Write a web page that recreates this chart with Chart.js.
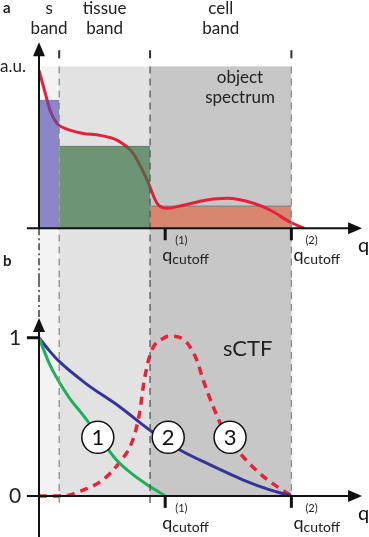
<!DOCTYPE html>
<html>
<head>
<meta charset="utf-8">
<script src="https://cdn.jsdelivr.net/npm/chart.js@4.4.1/dist/chart.umd.min.js"></script>
<style>
  body { margin: 0; background: #fff; }
  #wrap { position: relative; width: 369px; height: 537px; }
  #wrap canvas { position: absolute; left: 0; top: 0; }
</style>
</head>
<body>
<div id="wrap">
  <canvas id="chartA" width="369" height="537"></canvas>
  <canvas id="chartB" width="369" height="537"></canvas>
</div>
<script>
// --- data ---
const bandEdges = [0, 0.8, 4.4, 10];
const bandNames = [["s", "band"], ["tissue", "band"], ["cell", "band"]];
const bandShades = ["#f3f3f3", "#e2e2e2", "#c7c7c7"];
const bandTop = 10;
const bandLevels = [7.9, 5.06, 1.36];

// panel a: object spectrum
const qSpectrum = [0, 0.24, 0.44, 0.71, 1.03, 1.75, 2.42, 3.1, 3.73, 4.29, 4.68, 5.08, 5.71, 6.6, 7.46, 8.5, 9.17, 9.96, 10.5];
const spectrum  = [9.75, 8.4, 7.28, 6.48, 6.17, 5.86, 5.74, 5.43, 4.63, 2.96, 1.54, 1.23, 1.42, 1.73, 1.85, 1.54, 1.11, 0.37, 0];

// panel b: sCTF curves
const qCtf1 = [0, 0.4, 0.8, 1.2, 1.8, 2.4, 3.0, 3.6, 4.2, 5];
const ctf1  = [1, 0.84, 0.72, 0.62, 0.5, 0.37, 0.24, 0.15, 0.08, 0];
const qCtf2 = [0, 0.4, 0.8, 1.86, 3.18, 4.44, 5.59, 6.78, 8.1, 9.15, 10];
const ctf2  = [1, 0.92, 0.85, 0.71, 0.565, 0.41, 0.29, 0.196, 0.1, 0.038, 0];
const qCtf3 = [0, 0.8, 1.2, 1.6, 2.52, 3.18, 3.71, 3.98, 4.17, 4.44, 4.97, 5.19, 5.72, 6.25, 6.51, 6.9, 7.46, 7.96, 8.76, 9.42, 10];
const ctf3  = [0, 0, 0.005, 0.027, 0.1, 0.21, 0.35, 0.52, 0.73, 0.91, 1.0, 1.01, 0.99, 0.86, 0.73, 0.565, 0.37, 0.27, 0.14, 0.06, 0];

const cutoffs = [5, 10];
const circleLabels = ["1", "2", "3"];
const circleQ = [2.33, 5.12, 7.57];
const circleV = 0.37;

const FONT = 'Lato, "Open Sans", sans-serif';
const zip = (xs, ys) => xs.map((x, i) => ({ x, y: ys[i] }));

// tekstet e q_cutoff poshte boshtit
function cutoffLabels(ctx, X, axisY) {
  const qOff = [-3, 2], pOff = [10, 14];
  cutoffs.forEach((c, i) => {
    const px = X(c);
    ctx.fillStyle = "#222";
    ctx.textAlign = "left";
    ctx.font = "11px " + FONT;
    ctx.fillText("(" + (i + 1) + ")", px + pOff[i], axisY + 16);
    ctx.font = "18px " + FONT;
    ctx.fillText("q", px + qOff[i], axisY + 33);
    const qw = ctx.measureText("q").width;
    ctx.font = "14px " + FONT;
    ctx.fillText("cutoff", px + qOff[i] + qw, axisY + 36);
  });
}

function xAxis(ctx, X, axisY) {
  ctx.save();
  ctx.strokeStyle = "#111"; ctx.fillStyle = "#111";
  ctx.lineWidth = 2;
  ctx.beginPath(); ctx.moveTo(X(-0.48), axisY); ctx.lineTo(X(12.3), axisY); ctx.stroke();
  const tip = X(12.8);
  ctx.beginPath(); ctx.moveTo(tip, axisY); ctx.lineTo(tip - 14, axisY - 6); ctx.lineTo(tip - 14, axisY + 6); ctx.closePath(); ctx.fill();
  ctx.lineWidth = 3;
  cutoffs.forEach(c => {
    ctx.beginPath(); ctx.moveTo(X(c), axisY); ctx.lineTo(X(c), axisY + 12); ctx.stroke();
  });
  ctx.font = "20px " + FONT;
  ctx.textAlign = "left";
  ctx.fillText("q", tip - 4, axisY + 24);
  ctx.restore();
}

function yArrow(ctx, x0, fromY, tipY) {
  ctx.save();
  ctx.strokeStyle = "#111"; ctx.fillStyle = "#111"; ctx.lineWidth = 2;
  ctx.beginPath(); ctx.moveTo(x0, fromY); ctx.lineTo(x0, tipY + 8); ctx.stroke();
  ctx.beginPath(); ctx.moveTo(x0, tipY); ctx.lineTo(x0 - 6, tipY + 14); ctx.lineTo(x0 + 6, tipY + 14); ctx.closePath(); ctx.fill();
  ctx.restore();
}

function dashDot(ctx, x0, y1, y2) {
  ctx.save();
  ctx.strokeStyle = "#222"; ctx.lineWidth = 1.3;
  ctx.setLineDash([7, 3, 2, 3]);
  ctx.beginPath(); ctx.moveTo(x0, y1); ctx.lineTo(x0, y2); ctx.stroke();
  ctx.restore();
}

function shading(ctx, X, top, bottom) {
  for (let i = 0; i < 3; i++) {
    ctx.fillStyle = bandShades[i];
    ctx.fillRect(X(bandEdges[i]), top, X(bandEdges[i + 1]) - X(bandEdges[i]), bottom - top);
  }
}

function edgeLines(ctx, X, top, bottom) {
  ctx.save();
  ctx.lineWidth = 1.3;
  ctx.setLineDash([7, 5]);
  for (let i = 1; i < bandEdges.length; i++) {
    ctx.strokeStyle = i === 2 ? "#555" : "#8c8c8c";
    ctx.beginPath(); ctx.moveTo(X(bandEdges[i]), top); ctx.lineTo(X(bandEdges[i]), bottom); ctx.stroke();
  }
  ctx.restore();
}

// --- panel a plugin ---
const panelA = {
  id: "panelA",
  beforeDatasetsDraw(chart) {
    const { ctx, chartArea, scales: { x, y } } = chart;
    const X = v => x.getPixelForValue(v);
    ctx.save();
    shading(ctx, X, y.getPixelForValue(bandTop), chartArea.bottom);
    ctx.restore();
  },
  afterDatasetsDraw(chart) {
    const { ctx, chartArea, scales: { x, y } } = chart;
    const X = v => x.getPixelForValue(v), Y = v => y.getPixelForValue(v);
    edgeLines(ctx, X, Y(bandTop), chartArea.bottom);
    ctx.save();
    ctx.strokeStyle = "#333"; ctx.lineWidth = 2;
    for (let i = 1; i < bandEdges.length; i++) {
      ctx.beginPath(); ctx.moveTo(X(bandEdges[i]), Y(11)); ctx.lineTo(X(bandEdges[i]), Y(10.5)); ctx.stroke();
    }
    ctx.restore();

    const axisY = Y(0);
    dashDot(ctx, X(0), axisY, chartArea.bottom);
    yArrow(ctx, X(0), axisY, Y(11.5));
    xAxis(ctx, X, axisY);
    cutoffLabels(ctx, X, axisY);

    ctx.save();
    ctx.fillStyle = "#222";
    ctx.font = "bold 15px " + FONT;
    ctx.textAlign = "left";
    ctx.fillText("a", 3, 13);
    ctx.font = "17px " + FONT;
    ctx.textAlign = "center";
    bandNames.forEach((n, i) => {
      const cx = X((bandEdges[i] + bandEdges[i + 1]) / 2);
      ctx.fillText(n[0], cx, 14);
      ctx.fillText(n[1], cx, 34);
    });
    ctx.fillText("object", 240, 83);
    ctx.fillText("spectrum", 240, 103);
    ctx.textAlign = "left";
    ctx.fillText("a.u.", 0, 72);
    ctx.restore();
  }
};

// --- panel b plugin ---
const panelB = {
  id: "panelB",
  beforeDatasetsDraw(chart) {
    const { ctx, chartArea, scales: { x, y } } = chart;
    const X = v => x.getPixelForValue(v);
    ctx.save();
    shading(ctx, X, chartArea.top, y.getPixelForValue(0));
    ctx.restore();
  },
  afterDatasetsDraw(chart) {
    const { ctx, chartArea, scales: { x, y } } = chart;
    const X = v => x.getPixelForValue(v), Y = v => y.getPixelForValue(v);
    const axisY = Y(0);
    edgeLines(ctx, X, chartArea.top, axisY + 11);

    const tipY = Y(1.125);
    dashDot(ctx, X(0), chartArea.top, tipY);
    yArrow(ctx, X(0), chartArea.bottom, tipY);
    xAxis(ctx, X, axisY);
    cutoffLabels(ctx, X, axisY);

    ctx.save();
    ctx.strokeStyle = "#111"; ctx.lineWidth = 3;
    ctx.beginPath(); ctx.moveTo(X(-0.48), Y(1)); ctx.lineTo(X(0), Y(1)); ctx.stroke();
    ctx.fillStyle = "#222";
    ctx.font = "21px " + FONT;
    ctx.textAlign = "center";
    ctx.fillText("1", 15, Y(1) + 7);
    ctx.fillText("0", 15, axisY + 7);
    ctx.font = "bold 15px " + FONT;
    ctx.textAlign = "left";
    ctx.fillText("b", 3, 266);
    ctx.font = "22px " + FONT;
    ctx.fillText("sCTF", 223, 356);

    circleLabels.forEach((t, i) => {
      const cx = X(circleQ[i]), cy = Y(circleV);
      ctx.beginPath(); ctx.arc(cx, cy, 16, 0, Math.PI * 2);
      ctx.fillStyle = "#fff"; ctx.fill();
      ctx.lineWidth = 1.5; ctx.strokeStyle = "#111"; ctx.stroke();
      ctx.fillStyle = "#111";
      ctx.font = "22px " + FONT;
      ctx.textAlign = "center";
      ctx.textBaseline = "middle";
      ctx.fillText(t, cx, cy + 1);
      ctx.textBaseline = "alphabetic";
    });
    ctx.restore();
  }
};

const common = {
  responsive: false,
  animation: false,
  events: [],
  plugins: { legend: { display: false }, tooltip: { enabled: false } },
  elements: { point: { radius: 0 } }
};

// --- Chart per panelin a ---
const barColors = ["rgba(83,75,177,0.65)", "rgba(60,116,70,0.7)", "#d8866f"];
const barBorders = ["rgba(83,75,177,0.6)", "rgba(60,100,70,0.6)", "#8a8a8a"];
const barOrder = [1, 1, 3];

const datasetsA = [{
  data: zip(qSpectrum, spectrum),
  borderColor: "#e4213b",
  borderWidth: 3,
  cubicInterpolationMode: "monotone",
  fill: false,
  order: 2
}];
bandLevels.forEach((lvl, i) => {
  datasetsA.push({
    data: [{ x: bandEdges[i], y: lvl }, { x: bandEdges[i + 1], y: lvl }],
    borderColor: barBorders[i],
    borderWidth: i === 2 ? 1.5 : 1,
    backgroundColor: barColors[i],
    fill: "origin",
    order: barOrder[i]
  });
});

new Chart(document.getElementById("chartA"), {
  type: "line",
  data: { datasets: datasetsA },
  options: {
    ...common,
    layout: { padding: { left: 39, right: 12, top: 47, bottom: 257 } },
    scales: {
      x: { type: "linear", min: 0, max: 12.6, display: false },
      y: { min: -3.2, max: 11.2, display: false }
    }
  },
  plugins: [panelA]
});

// --- Chart per panelin b ---
new Chart(document.getElementById("chartB"), {
  type: "line",
  data: {
    datasets: [
      { data: zip(qCtf1, ctf1), borderColor: "#1fae5a", borderWidth: 3, cubicInterpolationMode: "monotone", fill: false },
      { data: zip(qCtf2, ctf2), borderColor: "#34349a", borderWidth: 3, cubicInterpolationMode: "monotone", fill: false },
      { data: zip(qCtf3, ctf3), borderColor: "#e5243b", borderWidth: 3.5, borderDash: [8, 6], cubicInterpolationMode: "monotone", fill: false }
    ]
  },
  options: {
    ...common,
    layout: { padding: { left: 39, right: 12, top: 280, bottom: 0 } },
    scales: {
      x: { type: "linear", min: 0, max: 12.6, display: false },
      y: { min: -0.26, max: 1.365, display: false }
    }
  },
  plugins: [panelB]
});
</script>
</body>
</html>
